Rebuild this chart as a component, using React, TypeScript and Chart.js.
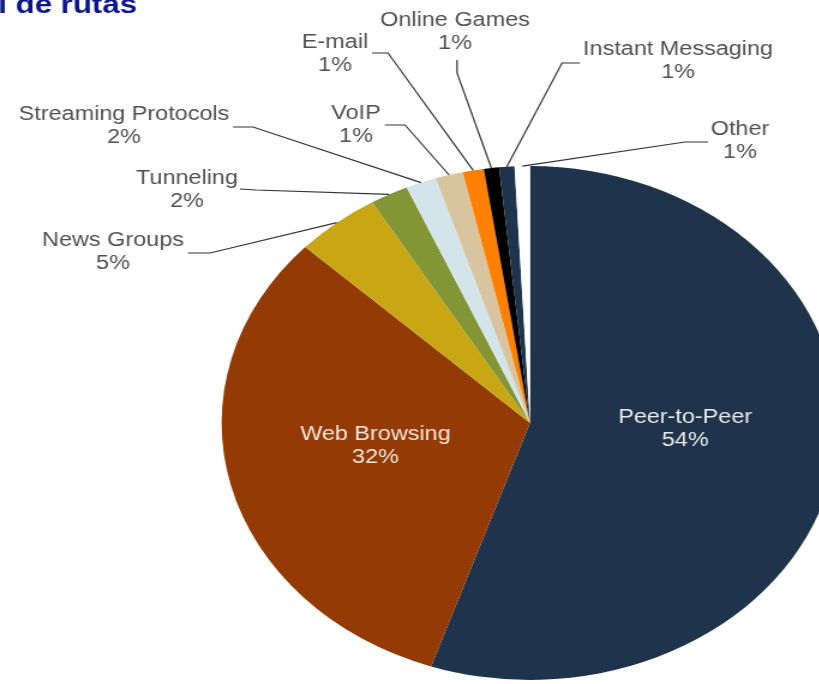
import React, { useEffect, useRef } from "react";
import { Chart, registerables } from "chart.js";

Chart.register(...registerables);

// ---- data ----
const categories = [
  "Peer-to-Peer",
  "Web Browsing",
  "News Groups",
  "Tunneling",
  "Streaming Protocols",
  "VoIP",
  "E-mail",
  "Online Games",
  "Instant Messaging",
  "Other",
];
const shares = [55.2, 31.8, 4.45, 2.0, 1.6, 1.45, 1.1, 0.8, 0.8, 0.8];
const shareLabels = ["54%", "32%", "5%", "2%", "2%", "1%", "1%", "1%", "1%", "1%"];
const titleText = "l de rutas";

// ---- styles ----
const sliceColors = [
  "#1f344c",
  "#933a05",
  "#c9a714",
  "#839535",
  "#d3e5ea",
  "#d8c59f",
  "#ff7f00",
  "#000000",
  "#1f344c",
  "#ffffff",
];

// horizontal stretch applied to the whole canvas (the reference is an oval pie)
const S = 1.2;
const CANVAS_W = 700;
const CANVAS_H = 684;

// outside callouts, in picture px: text centre, elbow point, text-side point
type Callout = { tx: number; ty: number; p0: [number, number]; p1: [number, number] };
const callouts: Record<number, Callout> = {
  2: { tx: 113, ty: 241, p0: [188, 253], p1: [210, 253] },
  3: { tx: 187, ty: 179, p0: [240, 189], p1: [256, 190] },
  4: { tx: 124, ty: 115, p0: [233, 127], p1: [253, 127] },
  5: { tx: 356, ty: 114, p0: [385, 125], p1: [405, 125] },
  6: { tx: 335, ty: 43, p0: [372, 53], p1: [388, 53] },
  7: { tx: 455, ty: 21, p0: [457, 60], p1: [457, 73] },
  8: { tx: 678, ty: 50, p0: [580, 63], p1: [562, 63] },
  9: { tx: 740, ty: 130, p0: [708, 142], p1: [685, 142] },
};
// inside labels: offset from slice centroid in picture px
const insideOffsets: Record<number, { dx: number; dy: number; color: string }> = {
  0: { dx: 3, dy: -15, color: "#e9e9e9" },
  1: { dx: -5, dy: -8, color: "#f4e6dd" },
};

const FONT = "19.5px 'Liberation Sans', Arial, Helvetica, sans-serif";
const LINE_GAP = 22.5;

const calloutPlugin = {
  id: "callouts",
  afterDatasetsDraw(chart: any) {
    const ctx = chart.ctx as CanvasRenderingContext2D;
    const meta = chart.getDatasetMeta(0);
    ctx.save();
    ctx.font = FONT;
    ctx.textAlign = "center";
    ctx.textBaseline = "middle";
    meta.data.forEach((arc: any, i: number) => {
      const p = arc.getProps(["x", "y", "startAngle", "endAngle", "outerRadius"], true);
      const mid = (p.startAngle + p.endAngle) / 2;
      if (insideOffsets[i]) {
        const o = insideOffsets[i];
        const cx = p.x + Math.cos(mid) * p.outerRadius * 0.5 + o.dx / S;
        const cy = p.y + Math.sin(mid) * p.outerRadius * 0.5 + o.dy;
        ctx.fillStyle = o.color;
        ctx.fillText(categories[i], cx, cy - LINE_GAP / 2);
        ctx.fillText(shareLabels[i], cx, cy + LINE_GAP / 2);
        return;
      }
      const c = callouts[i];
      if (!c) return;
      const ax = p.x + Math.cos(mid) * p.outerRadius;
      const ay = p.y + Math.sin(mid) * p.outerRadius;
      ctx.strokeStyle = "#333333";
      ctx.lineWidth = 1.2;
      ctx.beginPath();
      ctx.moveTo(c.p0[0] / S, c.p0[1]);
      ctx.lineTo(c.p1[0] / S, c.p1[1]);
      ctx.lineTo(ax, ay);
      ctx.stroke();
      ctx.fillStyle = "#505050";
      ctx.fillText(categories[i], c.tx / S, c.ty);
      ctx.fillText(shareLabels[i], c.tx / S, c.ty + LINE_GAP);
    });
    // title fragment at the top-left
    ctx.font = "bold 26px 'Liberation Sans', Arial, Helvetica, sans-serif";
    ctx.fillStyle = "#0b1590";
    ctx.textAlign = "right";
    ctx.textBaseline = "alphabetic";
    ctx.fillText(titleText, 137 / S, 13);
    ctx.restore();
  },
};

export default function App() {
  const ref = useRef<HTMLCanvasElement | null>(null);
  useEffect(() => {
    if (!ref.current) return;
    const cx = 530 / S;
    const r = 257;
    const chart = new Chart(ref.current, {
      type: "pie",
      data: {
        labels: categories,
        datasets: [
          {
            data: shares,
            backgroundColor: sliceColors,
            borderWidth: 0,
          },
        ],
      },
      options: {
        animation: false,
        responsive: true,
        maintainAspectRatio: false,
        layout: {
          padding: {
            left: cx - r,
            top: 166,
            right: CANVAS_W - (cx + r),
            bottom: CANVAS_H - (166 + 2 * r),
          },
        },
        plugins: {
          legend: { display: false },
          tooltip: { enabled: false },
          title: { display: false },
        },
      },
      plugins: [calloutPlugin],
    });
    return () => chart.destroy();
  }, []);
  return (
    <div
      style={{
        position: "fixed",
        left: 0,
        top: 0,
        width: 819,
        height: 684,
        overflow: "hidden",
        background: "#ffffff",
      }}
    >
      <div
        style={{
          position: "absolute",
          left: 0,
          top: 0,
          width: CANVAS_W,
          height: CANVAS_H,
          transform: `scaleX(${S})`,
          transformOrigin: "0 0",
        }}
      >
        <canvas ref={ref} />
      </div>
    </div>
  );
}
